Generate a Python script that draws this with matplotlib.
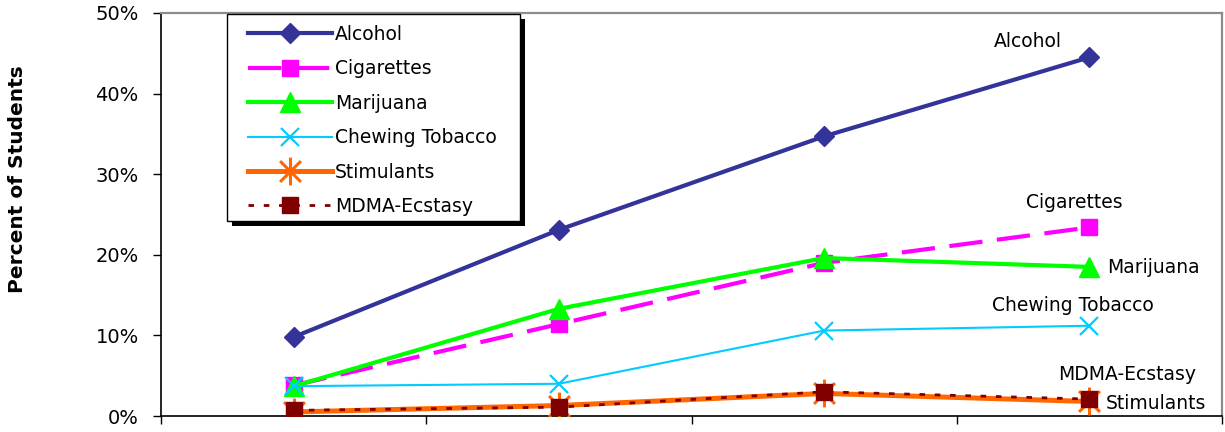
import numpy as np
import matplotlib
matplotlib.use("Agg")
import matplotlib.pyplot as plt
from matplotlib.path import Path
from matplotlib.patches import Rectangle
from matplotlib.ticker import FuncFormatter

plt.rcParams['font.family'] = ['DejaVu Sans']

# survey waves (labels fall below the visible area in the reference)
categories = ['Year 1', 'Year 2', 'Year 3', 'Year 4']

alcohol = [9.8, 23.1, 34.7, 44.5]
cigarettes = [3.8, 11.4, 19.0, 23.4]
marijuana = [3.7, 13.3, 19.6, 18.5]
chewing = [3.7, 4.0, 10.6, 11.2]
stimulants = [0.5, 1.3, 2.8, 1.8]
mdma = [0.7, 1.1, 3.0, 2.1]

# excel-style star: vertical stroke plus an x
star = Path([(0, 1), (0, -1), (-0.75, 0.75), (0.75, -0.75), (-0.75, -0.75), (0.75, 0.75)],
            [Path.MOVETO, Path.LINETO, Path.MOVETO, Path.LINETO, Path.MOVETO, Path.LINETO])

W, H = 1225, 432
fig = plt.figure(figsize=(W / 100, H / 100), dpi=100)
ax = fig.add_axes([161 / W, 1 - 416 / H, 1061 / W, 403 / H])

x = np.arange(len(categories))

ax.plot(x, alcohol, color='#333399', lw=3, marker='D', ms=10, label='Alcohol', zorder=3)
ax.plot(x, cigarettes, color='#FF00FF', lw=3, dashes=(8, 3.5), marker='s', ms=12,
        label='Cigarettes', zorder=4)
ax.plot(x, marijuana, color='#00FF00', lw=3, marker='^', ms=14, label='Marijuana', zorder=5)
ax.plot(x, chewing, color='#00CCFF', lw=1.5, marker='x', ms=13, mew=1.6,
        label='Chewing Tobacco', zorder=6)
ax.plot(x, stimulants, color='#FF6600', lw=3.6, marker=star, ms=20, mew=2.2,
        mfc='none', mec='#FF6600', label='Stimulants', zorder=7)
ax.plot(x, mdma, color='#800000', lw=2, dashes=(2, 3.5), marker='s', ms=11,
        label='MDMA-Ecstasy', zorder=8)

# series labels at the last point
fs = 13.5
ax.annotate('Alcohol', (x[-1], alcohol[-1]), xytext=(-62, 16), textcoords='offset pixels',
            ha='center', va='center', fontsize=fs)
ax.annotate('Cigarettes', (x[-1], cigarettes[-1]), xytext=(-15, 25), textcoords='offset pixels',
            ha='center', va='center', fontsize=fs)
ax.annotate('Marijuana', (x[-1], marijuana[-1]), xytext=(18, -1), textcoords='offset pixels',
            ha='left', va='center', fontsize=fs)
ax.annotate('Chewing Tobacco', (x[-1], chewing[-1]), xytext=(-17, 20), textcoords='offset pixels',
            ha='center', va='center', fontsize=fs)
ax.annotate('MDMA-Ecstasy', (x[-1], mdma[-1]), xytext=(38, 25), textcoords='offset pixels',
            ha='center', va='center', fontsize=fs)
ax.annotate('Stimulants', (x[-1], stimulants[-1]), xytext=(16, -2), textcoords='offset pixels',
            ha='left', va='center', fontsize=fs)

ax.set_xlim(-0.5, len(categories) - 0.5)
ax.set_ylim(0, 50)
ax.set_yticks(np.arange(0, 51, 10))
ax.yaxis.set_major_formatter(FuncFormatter(lambda v, p: f'{v:.0f}%'))
ax.set_xticks(np.arange(len(categories) + 1) - 0.5)
ax.set_xticklabels([])
ax.tick_params(axis='y', length=6, width=1, labelsize=14, pad=10)
ax.tick_params(axis='x', length=6, width=1)

for s in ['left', 'bottom']:
    ax.spines[s].set_color('black')
    ax.spines[s].set_linewidth(1.2)
for s in ['top', 'right']:
    ax.spines[s].set_color('#8c8c8c')
    ax.spines[s].set_linewidth(1.6)

fig.text(18 / W, 1 - 179 / H, 'Percent of Students', rotation=90, ha='center',
         va='center', fontsize=14.5, fontweight='bold')

# legend box with a hard black drop shadow, drawn by hand
bx0, by0, bx1, by1 = 227, 14, 520, 221
bw, bh = (bx1 - bx0) / W, (by1 - by0) / H
ax.add_patch(Rectangle(((bx0 + 5) / W, 1 - (by1 + 5) / H), bw, bh,
                       transform=fig.transFigure, clip_on=False,
                       facecolor='black', edgecolor='none', zorder=18))
ax.add_patch(Rectangle((bx0 / W, 1 - by1 / H), bw, bh,
                       transform=fig.transFigure, clip_on=False,
                       facecolor='white', edgecolor='black', lw=1, zorder=19))

leg = ax.legend(loc='upper left', bbox_to_anchor=(248 / W, 1 - 25 / H),
                bbox_transform=fig.transFigure, fontsize=fs, frameon=False,
                handlelength=4.48, handletextpad=0.16, labelspacing=0.82,
                borderpad=0, borderaxespad=0)
leg.set_zorder(20)

fig.savefig('out.png', dpi=100)
